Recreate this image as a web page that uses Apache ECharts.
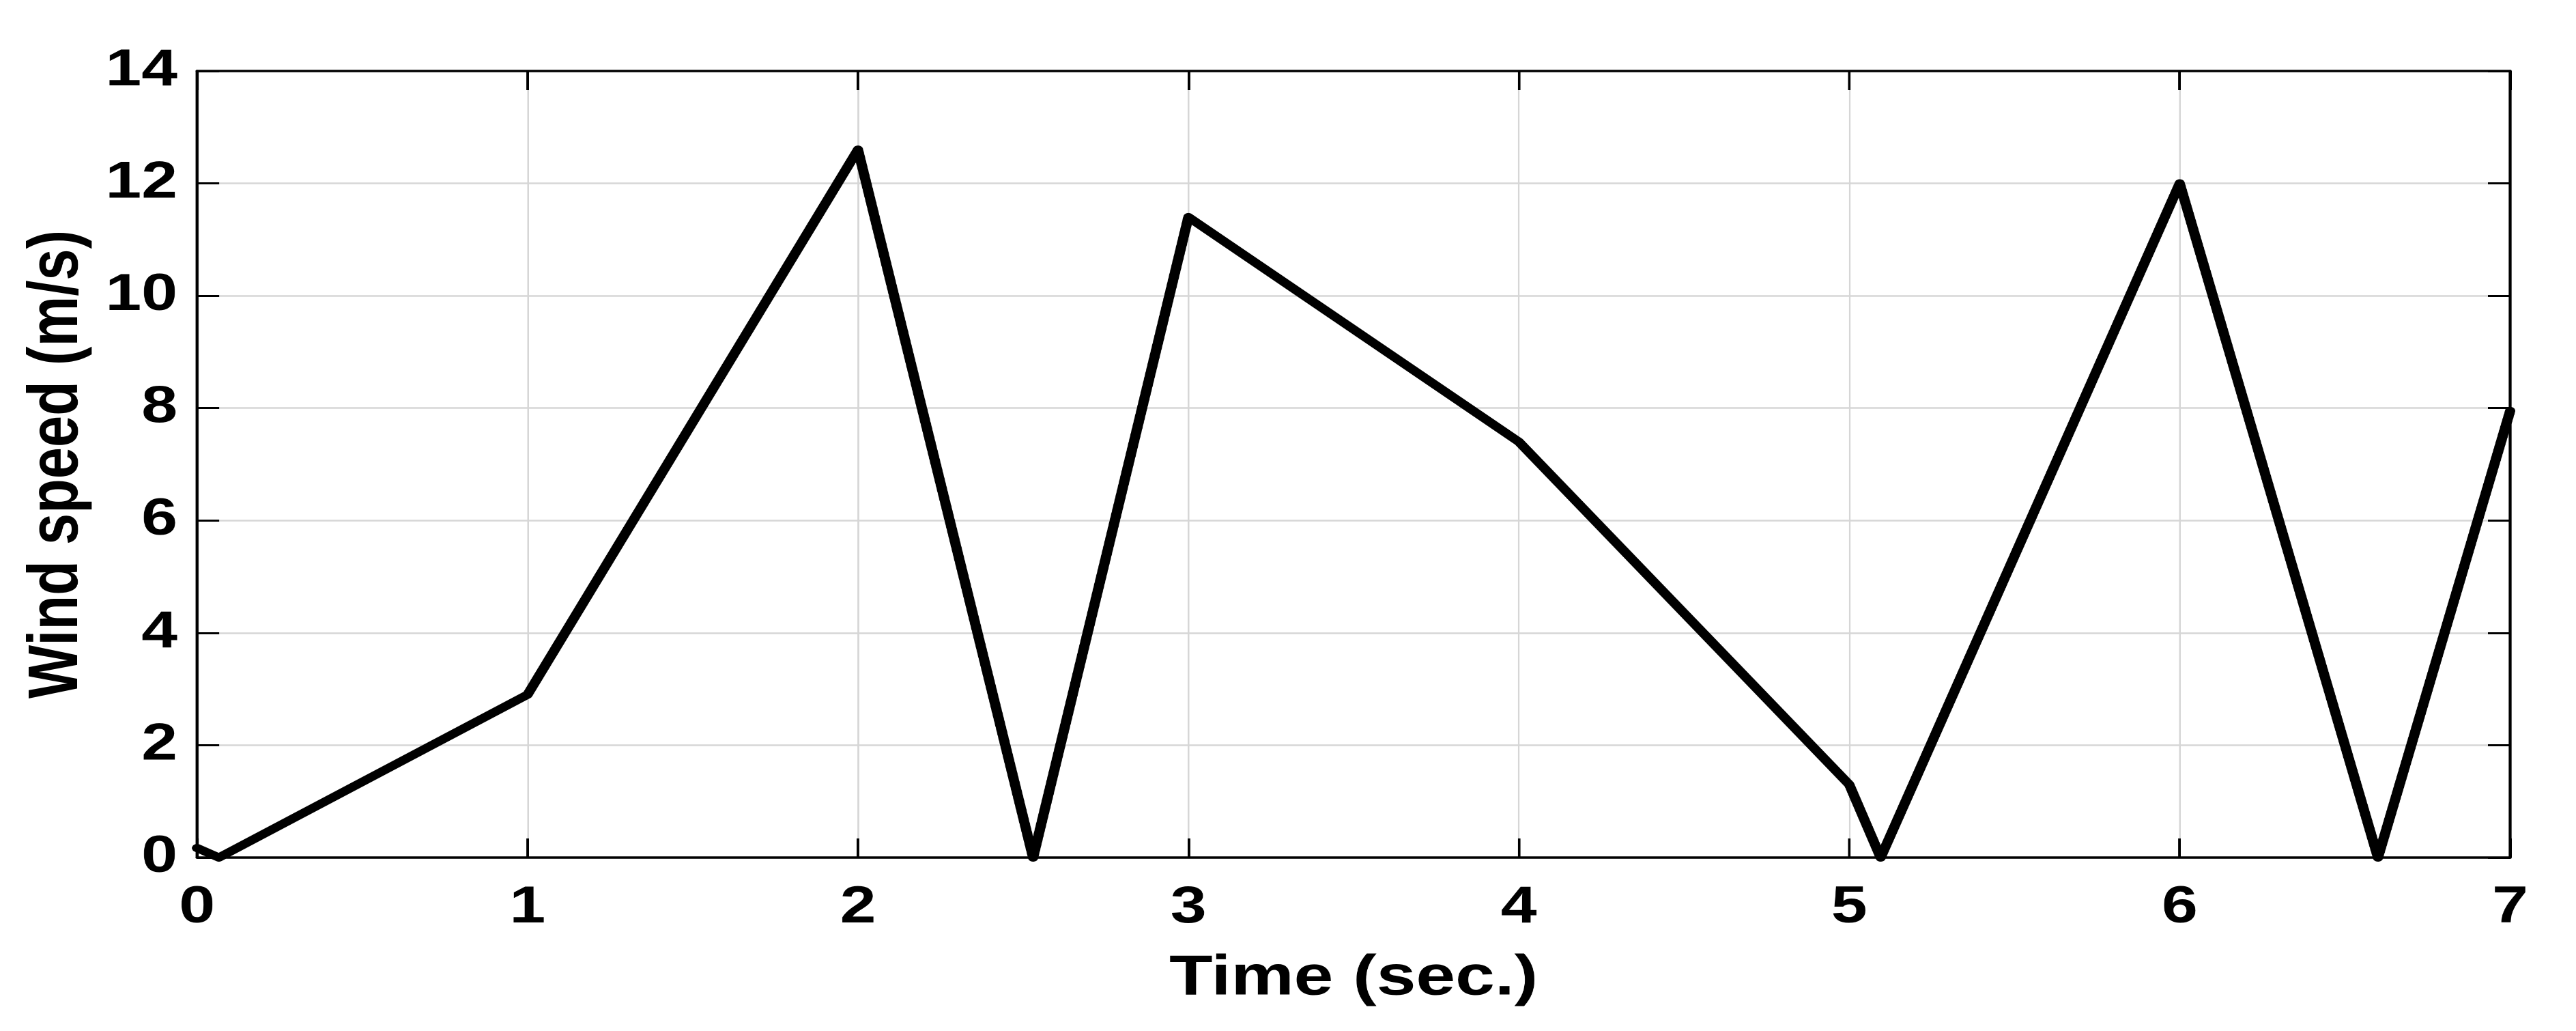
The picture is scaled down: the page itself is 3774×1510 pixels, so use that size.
<!DOCTYPE html>
<html>
<head>
<meta charset="utf-8">
<title>Wind speed</title>
<script src="https://cdn.jsdelivr.net/npm/echarts@6/dist/echarts.min.js"></script>
<style>
	html, body { margin: 0; padding: 0; background: #ffffff; overflow: hidden; }
	/* the source figure is stretched sideways, so the chart is drawn narrow and widened */
	#windSpeedChart { width: 3019.2px; height: 1510px; transform: scaleX(1.25); transform-origin: 0 0; }
</style>
</head>
<body>
<div id="windSpeedChart"></div>
<script>
// time axis (sec.) and wind speed (m/s)
var timeSec = [0, 0.066, 1, 2, 2.53, 3, 4, 5, 5.095, 6, 6.6, 7];
var windSpeed = [0.17, 0, 2.9, 12.6, 0, 11.4, 7.4, 1.3, 0, 12.0, 0, 7.95];

var xTicks = [0, 1, 2, 3, 4, 5, 6, 7];
var yTicks = [0, 2, 4, 6, 8, 10, 12, 14];

var fontName = "'Liberation Sans', Arial, sans-serif";

var windData = [];
for(var i = 0; i < timeSec.length; i++) {
	windData.push([timeSec[i], windSpeed[i]]);
}

var windSpeedChart = echarts.init(document.getElementById("windSpeedChart"), null, {
	devicePixelRatio: 2
});

var frameLine = {
	show: true,
	onZero: false,
	lineStyle: {
		color: '#000000',
		width: 3.5
	}
};

var optionWindSpeed = {
	animation: false,
	backgroundColor: '#ffffff',
	grid: {
		left: 231,
		right: 77,
		top: 104,
		bottom: 254,
		containLabel: false
	},
	xAxis: [{
		type: 'value',
		position: 'bottom',
		min: xTicks[0],
		max: xTicks[xTicks.length - 1],
		interval: 1,
		name: 'Time (sec.)',
		nameLocation: 'middle',
		nameGap: 136,
		nameTextStyle: {
			fontFamily: fontName,
			fontWeight: 'bold',
			fontSize: 83,
			color: '#000000'
		},
		axisLine: frameLine,
		axisTick: {
			show: true,
			inside: true,
			length: 28,
			lineStyle: { color: '#000000', width: 3 }
		},
		axisLabel: {
			margin: 36,
			fontFamily: fontName,
			fontWeight: 'bold',
			fontSize: 76,
			color: '#000000'
		},
		splitLine: {
			show: true,
			lineStyle: { color: '#d6d6d6', width: 2 }
		}
	}, {
		//上边框
		type: 'value',
		position: 'top',
		min: xTicks[0],
		max: xTicks[xTicks.length - 1],
		interval: 1,
		axisLine: frameLine,
		axisTick: {
			show: true,
			inside: true,
			length: 28,
			lineStyle: { color: '#000000', width: 3 }
		},
		axisLabel: { show: false },
		splitLine: { show: false }
	}],
	yAxis: [{
		type: 'value',
		position: 'left',
		min: yTicks[0],
		max: yTicks[yTicks.length - 1],
		interval: 2,
		name: 'Wind speed (m/s)',
		nameLocation: 'middle',
		nameGap: 122,
		nameTextStyle: {
			fontFamily: fontName,
			fontWeight: 'bold',
			fontSize: 83,
			color: '#000000'
		},
		axisLine: frameLine,
		axisTick: {
			show: true,
			inside: true,
			length: 26,
			lineStyle: { color: '#000000', width: 3 }
		},
		axisLabel: {
			margin: 23,
			fontFamily: fontName,
			fontWeight: 'bold',
			fontSize: 76,
			color: '#000000'
		},
		splitLine: {
			show: true,
			lineStyle: { color: '#d6d6d6', width: 2.5 }
		}
	}, {
		//右边框
		type: 'value',
		position: 'right',
		min: yTicks[0],
		max: yTicks[yTicks.length - 1],
		interval: 2,
		axisLine: frameLine,
		axisTick: {
			show: true,
			inside: true,
			length: 26,
			lineStyle: { color: '#000000', width: 3 }
		},
		axisLabel: { show: false },
		splitLine: { show: false }
	}],
	series: [{
		name: 'Wind speed',
		type: 'line',
		xAxisIndex: 0,
		yAxisIndex: 0,
		data: windData,
		showSymbol: false,
		clip: false,
		lineStyle: {
			color: '#000000',
			width: 12,
			join: 'round',
			cap: 'round'
		},
		z: 5
	}]
};

windSpeedChart.setOption(optionWindSpeed);
</script>
</body>
</html>
